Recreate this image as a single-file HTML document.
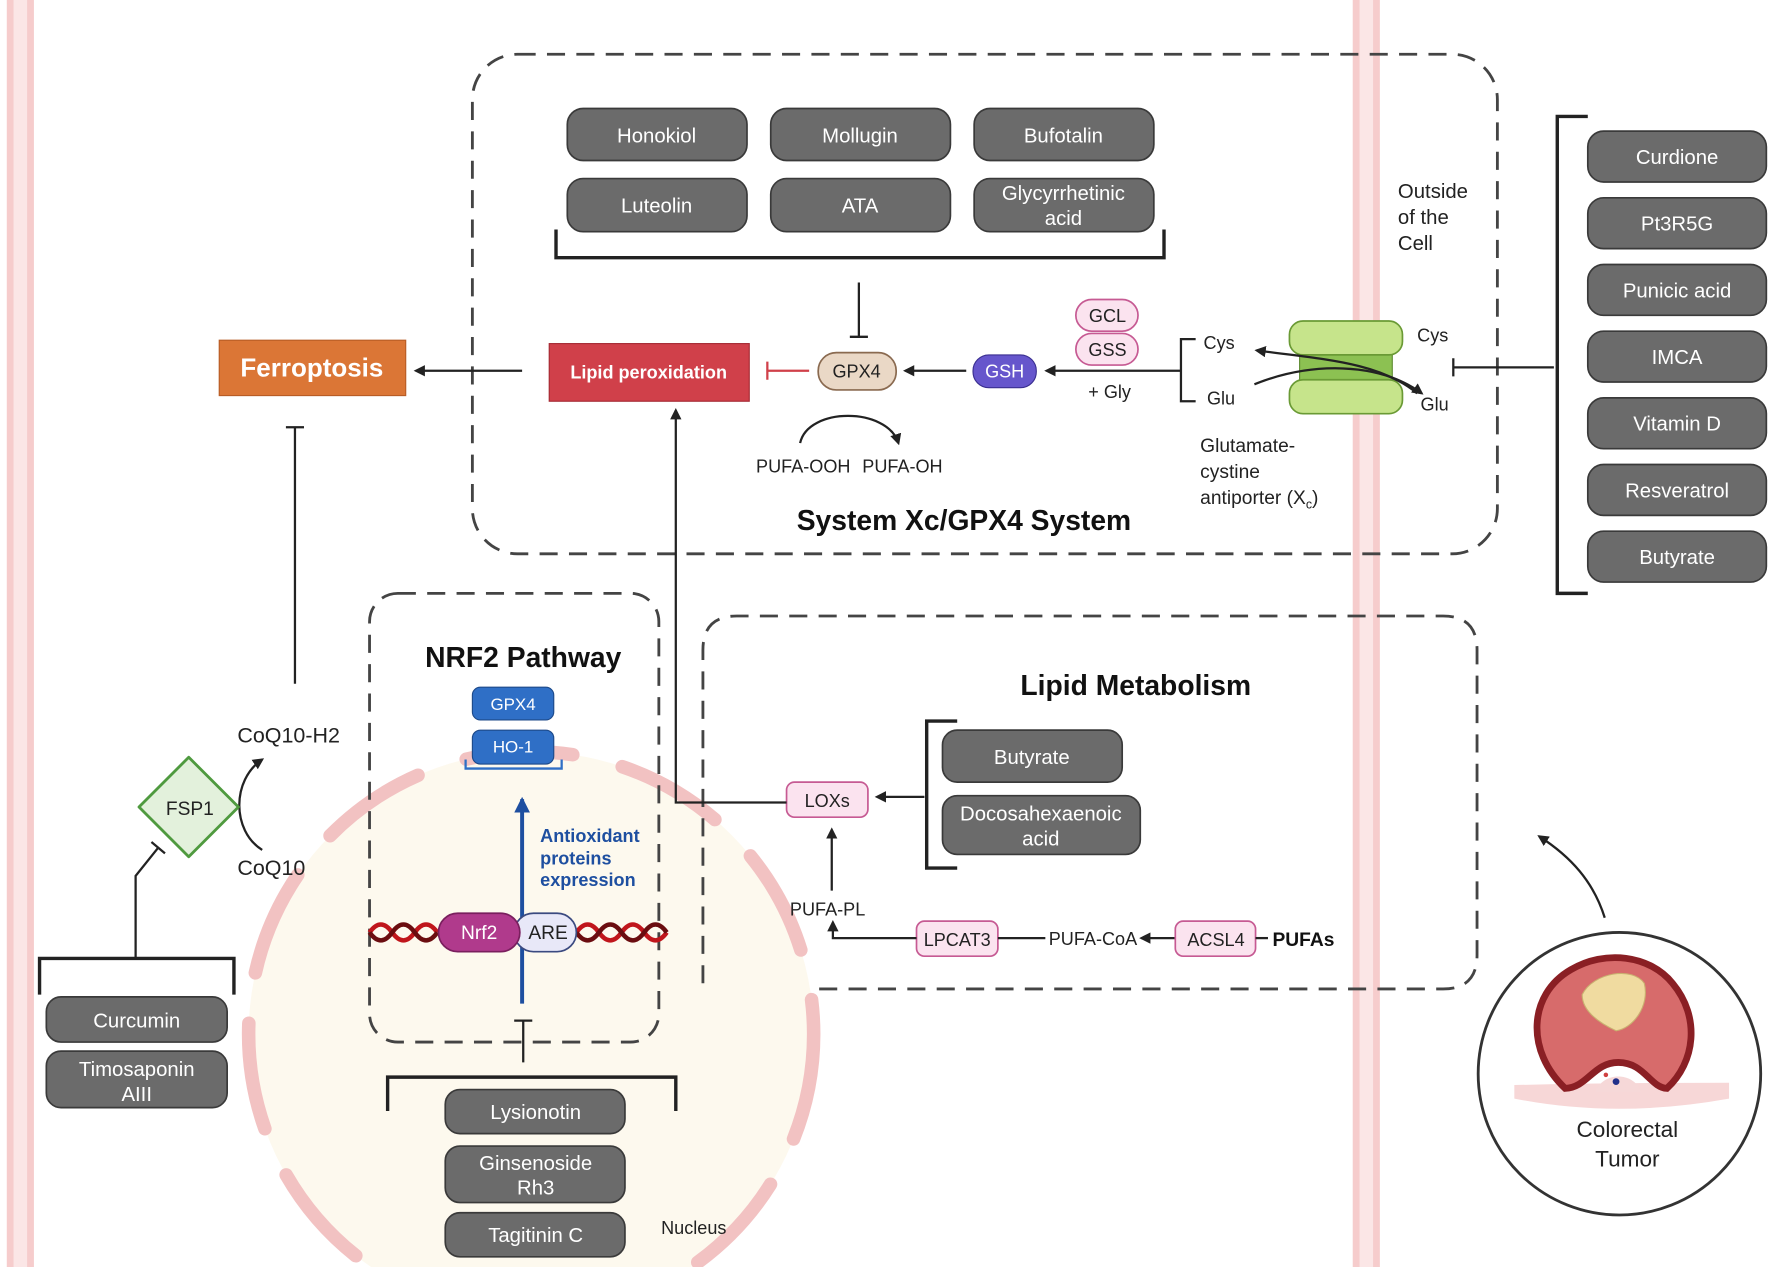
<!DOCTYPE html>
<html><head><meta charset="utf-8"><style>
html,body{margin:0;padding:0;background:#fff;}
svg{display:block;}
text{font-family:"Liberation Sans",sans-serif;}
.pill{fill:#6b6b6b;stroke:#3a3a3a;stroke-width:1.5;}
.pt{fill:#fff;font-size:18px;text-anchor:middle;}
.pk{fill:#fbe3ef;stroke:#c65a93;stroke-width:1.5;}
.pkt{fill:#222;font-size:16px;text-anchor:middle;}
.ln{stroke:#222;stroke-width:2;fill:none;}
.dash{stroke:#444;stroke-width:2.5;fill:none;stroke-dasharray:16 10;}
.br{stroke:#222;stroke-width:3;fill:none;}
.lab{fill:#222;font-size:16px;}
</style></head><body>
<svg width="1772" height="1267" viewBox="0 0 1568 1121" preserveAspectRatio="none" xmlns="http://www.w3.org/2000/svg">
<defs>
<marker id="ah" markerWidth="10" markerHeight="10" refX="8" refY="5" orient="auto" markerUnits="userSpaceOnUse"><path d="M0,0 L10,5 L0,10 z" fill="#222"/></marker>
<marker id="ahb" markerWidth="14" markerHeight="14" refX="12" refY="7" orient="auto" markerUnits="userSpaceOnUse"><path d="M0,0 L14,7 L0,14 z" fill="#1e4fa0"/></marker>
</defs>
<!-- membranes -->
<rect x="6" y="0" width="24" height="1121" fill="#f6cccc"/>
<rect x="12" y="0" width="12" height="1121" fill="#fbe6e6"/>
<rect x="1197" y="0" width="24" height="1121" fill="#f6cccc"/>
<rect x="1203" y="0" width="12" height="1121" fill="#fbe6e6"/>

<!-- nucleus -->
<circle cx="470" cy="915" r="250" fill="#fdf9ee"/>
<circle cx="470" cy="915" r="250" fill="none" stroke="#f2c2c2" stroke-width="12" stroke-dasharray="95 45" stroke-linecap="round"/>
<text x="585" y="1092" class="lab">Nucleus</text>

<!-- top dashed box -->
<rect x="418" y="48" width="907" height="442" rx="40" class="dash"/>
<g>
<rect x="502" y="96" width="159" height="46" rx="14" class="pill"/><text x="581" y="126" class="pt">Honokiol</text>
<rect x="682" y="96" width="159" height="46" rx="14" class="pill"/><text x="761" y="126" class="pt">Mollugin</text>
<rect x="862" y="96" width="159" height="46" rx="14" class="pill"/><text x="941" y="126" class="pt">Bufotalin</text>
<rect x="502" y="158" width="159" height="47" rx="14" class="pill"/><text x="581" y="188" class="pt">Luteolin</text>
<rect x="682" y="158" width="159" height="47" rx="14" class="pill"/><text x="761" y="188" class="pt">ATA</text>
<rect x="862" y="158" width="159" height="47" rx="14" class="pill"/><text x="941" y="177" class="pt">Glycyrrhetinic</text><text x="941" y="199" class="pt">acid</text>
</g>
<path d="M492,203 V228 H1030 V203" class="br"/>
<path d="M760,250 V298 M752,298 H768" class="ln"/>

<rect x="194" y="301" width="165" height="49" fill="#db7636" stroke="#b85c25"/>
<text x="276" y="333" fill="#fff" font-size="23" font-weight="bold" text-anchor="middle">Ferroptosis</text>
<path d="M462,328 H368" class="ln" marker-end="url(#ah)"/>
<rect x="486" y="304" width="177" height="51" fill="#d0404a" stroke="#a52a33"/>
<text x="574" y="335" fill="#fff" font-size="16" font-weight="bold" text-anchor="middle">Lipid peroxidation</text>
<path d="M716,328 H679 M679,320 V336" stroke="#d0404a" stroke-width="2" fill="none"/>
<rect x="724" y="312" width="69" height="33" rx="16" fill="#ead8c6" stroke="#8a6a50" stroke-width="1.5"/>
<text x="758" y="334" class="pkt">GPX4</text>
<path d="M855,328 H801" class="ln" marker-end="url(#ah)"/>
<rect x="861" y="314" width="56" height="29" rx="14" fill="#6656cc" stroke="#3a2f90"/>
<text x="889" y="334" fill="#fff" font-size="16" text-anchor="middle">GSH</text>
<path d="M1045,328 H926" class="ln" marker-end="url(#ah)"/>
<rect x="952" y="265" width="55" height="28" rx="14" class="pk"/><text x="980" y="285" class="pkt">GCL</text>
<rect x="952" y="295" width="55" height="28" rx="14" class="pk"/><text x="980" y="315" class="pkt">GSS</text>
<text x="963" y="352" class="lab">+ Gly</text>
<path d="M1058,300 H1045 V355 H1058" class="ln"/>
<text x="1065" y="309" class="lab">Cys</text>
<text x="1068" y="358" class="lab">Glu</text>
<!-- transporter -->
<rect x="1150" y="305" width="82" height="42" fill="#8cc152" stroke="#5d8a2f"/>
<rect x="1141" y="284" width="100" height="30" rx="12" fill="#c6e48b" stroke="#6a9a35" stroke-width="1.5"/>
<rect x="1141" y="336" width="100" height="30" rx="12" fill="#c6e48b" stroke="#6a9a35" stroke-width="1.5"/>
<path d="M1254,348 C1220,320 1170,318 1112,310" class="ln" marker-end="url(#ah)"/>
<path d="M1110,340 C1160,320 1220,320 1258,348" class="ln" marker-end="url(#ah)"/>
<text x="1254" y="302" class="lab">Cys</text>
<text x="1257" y="363" class="lab">Glu</text>
<path d="M1375,325 H1286 M1286,317 V333" class="ln"/>
<text x="1237" y="175" class="lab" style="font-size:18px">Outside</text>
<text x="1237" y="198" class="lab" style="font-size:18px">of the</text>
<text x="1237" y="221" class="lab" style="font-size:18px">Cell</text>
<path d="M708,392 C715,360 785,360 795,392" class="ln" marker-end="url(#ah)"/>
<text x="669" y="418" class="lab">PUFA-OOH</text><text x="763" y="418" class="lab">PUFA-OH</text>
<text x="1062" y="400" class="lab" style="font-size:17px">Glutamate-</text>
<text x="1062" y="423" class="lab" style="font-size:17px">cystine</text>
<text x="1062" y="446" class="lab" style="font-size:17px">antiporter (X<tspan style="font-size:11px" dy="4">c</tspan><tspan dy="-4">)</tspan></text>
<text x="705" y="469" fill="#111" font-size="25" font-weight="bold">System Xc/GPX4 System</text>

<!-- right bracket list -->
<path d="M1405,103 H1378 V525 H1405" class="br"/>
<g>
<rect x="1405" y="116" width="158" height="45" rx="14" class="pill"/><text x="1484" y="145" class="pt">Curdione</text>
<rect x="1405" y="175" width="158" height="45" rx="14" class="pill"/><text x="1484" y="204" class="pt">Pt3R5G</text>
<rect x="1405" y="234" width="158" height="45" rx="14" class="pill"/><text x="1484" y="263" class="pt">Punicic acid</text>
<rect x="1405" y="293" width="158" height="45" rx="14" class="pill"/><text x="1484" y="322" class="pt">IMCA</text>
<rect x="1405" y="352" width="158" height="45" rx="14" class="pill"/><text x="1484" y="381" class="pt">Vitamin D</text>
<rect x="1405" y="411" width="158" height="45" rx="14" class="pill"/><text x="1484" y="440" class="pt">Resveratrol</text>
<rect x="1405" y="470" width="158" height="45" rx="14" class="pill"/><text x="1484" y="499" class="pt">Butyrate</text>
</g>

<!-- FSP1 area -->
<path d="M261,605 V378 M253,378 H269" class="ln"/>
<text x="210" y="657" class="lab" style="font-size:19px">CoQ10-H2</text>
<text x="210" y="774" class="lab" style="font-size:19px">CoQ10</text>
<path d="M232,752 C205,735 205,690 232,672" class="ln" marker-end="url(#ah)"/>
<path d="M167,670 L211,714 L167,758 L123,714 z" fill="#e3f1dc" stroke="#4f9a3f" stroke-width="2.5" stroke-linejoin="round"/>
<text x="168" y="721" class="pkt" style="font-size:17px">FSP1</text>
<path d="M120,848 V775 L140,750 M134,745 L146,755" class="ln" stroke-width="3"/>
<path d="M35,880 V848 H207 V880" class="br"/>
<rect x="41" y="882" width="160" height="40" rx="13" class="pill"/><text x="121" y="909" class="pt">Curcumin</text>
<rect x="41" y="930" width="160" height="50" rx="13" class="pill"/><text x="121" y="952" class="pt">Timosaponin</text><text x="121" y="974" class="pt">AIII</text>

<!-- NRF2 box -->
<rect x="327" y="525" width="256" height="397" rx="25" class="dash"/>
<text x="463" y="590" fill="#111" font-size="25" font-weight="bold" text-anchor="middle">NRF2 Pathway</text>
<rect x="418" y="608" width="72" height="29" rx="7" fill="#2f6fc6" stroke="#1d4a8a"/><text x="454" y="628" fill="#fff" font-size="15" text-anchor="middle">GPX4</text>
<rect x="418" y="646" width="72" height="30" rx="7" fill="#2f6fc6" stroke="#1d4a8a"/><text x="454" y="666" fill="#fff" font-size="15" text-anchor="middle">HO-1</text>
<path d="M412,672 V680 H497 V672" stroke="#2f6fc6" stroke-width="2" fill="none"/>
<path d="M462,888 V707" stroke="#1e4fa0" stroke-width="3.5" fill="none" marker-end="url(#ahb)"/>
<text fill="#1e4fa0" font-size="16" font-weight="bold"><tspan x="478" y="745">Antioxidant</tspan><tspan x="478" y="765">proteins</tspan><tspan x="478" y="784">expression</tspan></text>
<path d="M327,825 q10,-14 20,0 t20,0 t20,0 M510,825 q10,-14 20,0 t20,0 t20,0 t20,0" stroke="#c0161c" stroke-width="4" fill="none"/>
<path d="M327,825 q10,14 20,0 t20,0 t20,0 M510,825 q10,14 20,0 t20,0 t20,0 t20,0" stroke="#6b0d10" stroke-width="4" fill="none"/>
<rect x="455" y="808" width="55" height="34" rx="17" fill="#e8e8f8" stroke="#3b4a80" stroke-width="1.5"/>
<rect x="388" y="808" width="72" height="34" rx="17" fill="#b03a8c" stroke="#7a1f5e" stroke-width="1.5"/>
<text x="424" y="831" fill="#fff" font-size="17" text-anchor="middle">Nrf2</text>
<text x="485" y="831" class="pkt" style="font-size:17px">ARE</text>
<path d="M463,940 V903 M455,903 H471" class="ln" stroke-width="2.5"/>
<path d="M343,983 V953 H598 V983" class="br"/>
<rect x="394" y="964" width="159" height="39" rx="13" class="pill"/><text x="474" y="990" class="pt">Lysionotin</text>
<rect x="394" y="1014" width="159" height="50" rx="13" class="pill"/><text x="474" y="1035" class="pt">Ginsenoside</text><text x="474" y="1057" class="pt">Rh3</text>
<rect x="394" y="1073" width="159" height="39" rx="13" class="pill"/><text x="474" y="1099" class="pt">Tagitinin C</text>

<!-- lipid metabolism -->
<path d="M622,870 V575 Q622,545 652,545 H1277 Q1307,545 1307,575 V845 Q1307,875 1277,875 H720" class="dash"/>
<text x="1005" y="615" fill="#111" font-size="25" font-weight="bold" text-anchor="middle">Lipid Metabolism</text>
<path d="M847,638 H820 V768 H847" class="br"/>
<rect x="834" y="646" width="159" height="46" rx="13" class="pill"/><text x="913" y="676" class="pt">Butyrate</text>
<rect x="834" y="704" width="175" height="52" rx="13" class="pill"/><text x="921" y="726" class="pt">Docosahexaenoic</text><text x="921" y="748" class="pt">acid</text>
<rect x="696" y="692" width="72" height="31" rx="7" class="pk"/><text x="732" y="714" class="pkt">LOXs</text>
<path d="M818,705 H776" class="ln" marker-end="url(#ah)"/>
<path d="M696,710 H598 V363" class="ln" marker-end="url(#ah)"/>
<text x="699" y="810" class="lab">PUFA-PL</text>
<path d="M736,788 V734" class="ln" stroke-width="2.5" marker-end="url(#ah)"/>
<rect x="811" y="815" width="72" height="31" rx="7" class="pk"/><text x="847" y="837" class="pkt">LPCAT3</text>
<path d="M811,830 H737 V816" class="ln" marker-end="url(#ah)"/>
<path d="M883,830 H925" class="ln"/>
<text x="928" y="836" class="lab">PUFA-CoA</text>
<path d="M1040,830 H1010" class="ln" marker-end="url(#ah)"/>
<rect x="1040" y="815" width="71" height="31" rx="7" class="pk"/><text x="1076" y="837" class="pkt">ACSL4</text>
<path d="M1111,830 H1122" class="ln"/>
<text x="1126" y="837" fill="#111" font-size="17" font-weight="bold">PUFAs</text>

<!-- tumor -->
<path d="M1420,812 C1410,780 1390,758 1362,740" class="ln" marker-end="url(#ah)"/>
<circle cx="1433" cy="950" r="125" fill="#fff" stroke="#333" stroke-width="2.5"/>
<path d="M1340,960 Q1430,958 1530,958 L1530,972 Q1430,990 1340,972 z" fill="#f7d7d7"/>
<path d="M1385,963 C1350,930 1352,880 1390,858 C1420,840 1460,845 1480,870 C1505,900 1500,940 1475,963 C1460,962 1455,940 1432,940 C1410,940 1405,962 1385,963 z" fill="#d76b6b" stroke="#8a1f24" stroke-width="6"/>
<path d="M1400,880 C1410,860 1445,855 1455,870 C1460,890 1445,910 1430,912 C1415,905 1400,895 1400,880 z" fill="#f0dba0" stroke="#c9b070"/>
<path d="M1412,966 C1418,948 1446,948 1452,966 z" fill="#f6d8d8"/>
<circle cx="1430" cy="957" r="3" fill="#22308a"/><circle cx="1421" cy="951" r="2" fill="#d04040"/>
<text x="1440" y="1006" text-anchor="middle" class="lab" style="font-size:20px">Colorectal</text>
<text x="1440" y="1032" text-anchor="middle" class="lab" style="font-size:20px">Tumor</text>
</svg>
</body></html>
